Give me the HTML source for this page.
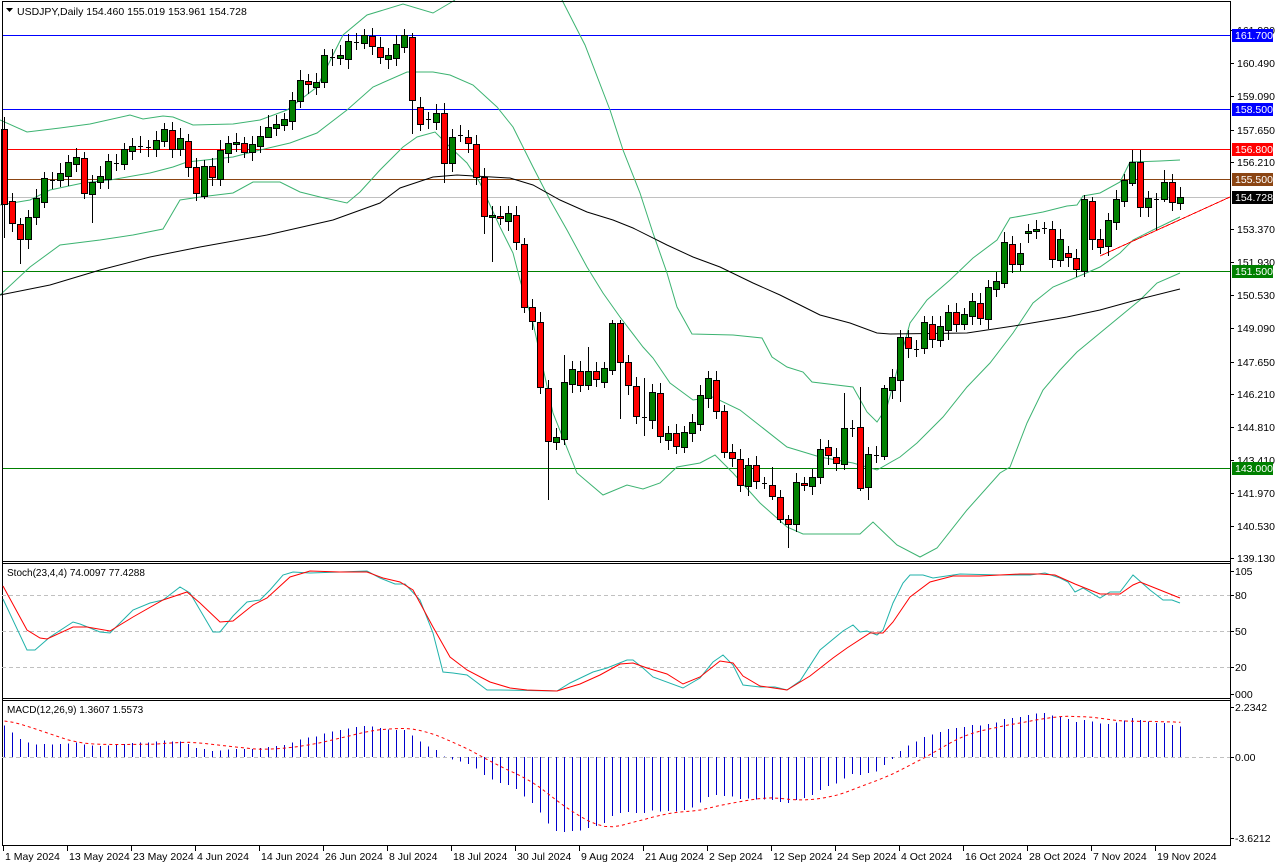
<!DOCTYPE html>
<html><head><meta charset="utf-8"><style>
html,body{margin:0;padding:0;background:#fff;}
svg{display:block;font-family:"Liberation Sans",sans-serif;}
</style></head><body>
<svg id="s" width="1276" height="867" xmlns="http://www.w3.org/2000/svg">
<rect width="1276" height="867" fill="#fff"/>
<g id="g"></g>
</svg>
<script>
(function(){
var g=document.getElementById('g');var out=[];
function L(x1,y1,x2,y2,c,w,d){out.push('<line x1="'+x1+'" y1="'+y1+'" x2="'+x2+'" y2="'+y2+'" stroke="'+c+'" stroke-width="'+(w||1)+'"'+(d?' stroke-dasharray="'+d+'"':'')+' shape-rendering="crispEdges"/>');}
function P(pts,c,w,d){out.push('<polyline fill="none" stroke="'+c+'" stroke-width="'+(w||1)+'"'+(d?' stroke-dasharray="'+d+'"':'')+' points="'+pts.map(function(p){return p[0]+','+p[1]}).join(' ')+'"/>');}
function T(x,y,t,c,s,a){out.push('<text x="'+x+'" y="'+y+'" fill="'+(c||'#000')+'" font-size="'+(s||11)+'"'+(a?' text-anchor="'+a+'"':'')+'>'+t+'</text>');}
function R(x,y,w,h,f,st){out.push('<rect x="'+x+'" y="'+y+'" width="'+w+'" height="'+h+'" fill="'+f+'"'+(st?' stroke="'+st+'" stroke-width="1"':'')+' shape-rendering="crispEdges"/>');}

// horizontal levels
var lv=[[35,'#0000ff'],[109,'#0000ff'],[149,'#ff0000'],[179,'#8b4513'],[197,'#c0c0c0'],[271,'#008000'],[468,'#008000']];
lv.forEach(function(l){L(2,l[0]+.5,1230,l[0]+.5,l[1]);});

// bands
var up=[[0,120],[27,132],[60,128],[90,124],[130,115],[143,119],[163,116],[173,117],[193,125],[233,124],[260,120],[287,110],[317,87],[343,35],[367,15],[403,4],[433,13],[450,3],[455,0]];
var up2=[[562,0],[585,45],[610,110],[623,150],[640,193],[653,233],[667,273],[677,307],[692,334],[733,335],[762,338],[772,357],[787,367],[803,372],[812,382],[853,387],[867,412],[877,422],[887,407],[910,323],[927,300],[950,280],[973,258],[997,240],[1010,218],[1027,215],[1043,212],[1067,206],[1077,205],[1083,196],[1100,193],[1120,182],[1130,162],[1160,161],[1180,160]];
var mid=[[0,205],[30,200],[50,190],[83,183],[110,180],[150,173],[173,167],[187,162],[233,157],[260,150],[290,143],[317,133],[347,110],[373,87],[407,72],[433,72],[450,75],[473,85],[497,107],[513,127],[533,167],[550,200],[567,230],[587,267],[603,293],[620,317],[643,347],[653,358],[670,383],[693,400],[713,397],[740,410],[787,447],[820,457],[853,463],[877,470],[900,457],[917,443],[943,417],[967,387],[990,363],[1013,333],[1033,303],[1053,287],[1077,277],[1100,267],[1120,253],[1133,240],[1153,230],[1180,217]];
var lo=[[0,295],[30,267],[60,245],[100,240],[133,235],[163,229],[180,200],[200,197],[233,193],[253,182],[280,182],[300,192],[320,197],[347,203],[360,192],[380,170],[403,147],[417,137],[435,132],[450,147],[467,163],[480,183],[500,227],[513,253],[520,280],[533,323],[553,413],[577,473],[603,495],[627,485],[643,489],[660,483],[677,467],[700,463],[715,455],[733,473],[760,503],[787,527],[803,534],[860,534],[873,522],[897,545],[920,557],[937,548],[967,510],[1000,473],[1010,467],[1027,423],[1043,390],[1060,370],[1077,352],[1100,333],[1140,300],[1157,283],[1180,273]];
var bc='#3cb371';P(up,bc);P(up2,bc);P(mid,bc);P(lo,bc);
var ma=[[0,295],[50,285],[100,270],[150,257],[200,247],[267,235],[333,220],[380,203],[400,188],[433,177],[457,175],[510,178],[533,185],[560,200],[587,212],[613,220],[633,228],[667,245],[693,257],[720,267],[753,283],[780,295],[800,305],[820,315],[850,323],[877,333],[890,334],[967,333],[987,330],[1020,325],[1067,317],[1100,310],[1140,299],[1180,289]];
P(ma,'#000');
// trend line
L(1100,256,1230,197,'#ff0000');

// candles
var C=[[129,204],[201,223],[224,239],[239,217],[217,198],[202,178],[180,180],[180,173],[176,162],[164,157],[158,193],[194,182],[182,176],[179,161],[163,163],[164,149],[151,146],[146,146],[147,147],[149,140],[141,129],[130,149],[149,138],[141,167],[167,193],[196,166],[166,177],[179,150],[153,143],[144,142],[143,152],[152,144],[146,136],[137,127],[128,124],[125,119],[121,100],[101,80],[81,84],[87,82],[82,55],[57,57],[58,55],[59,41],[42,42],[43,35],[36,46],[47,57],[59,55],[58,44],[47,35],[37,100],[107,124],[119,119],[122,113],[113,163],[163,137],[135,135],[137,143],[144,177],[177,216],[217,215],[216,218],[221,213],[215,242],[244,307],[307,321],[322,387],[388,441],[442,437],[439,382],[384,369],[371,385],[385,371],[371,379],[382,368],[370,323],[323,362],[362,385],[386,416],[417,417],[420,392],[393,436],[440,433],[433,446],[447,432],[433,422],[424,395],[398,378],[380,411],[411,452],[452,458],[459,485],[486,465],[465,481],[483,483],[485,496],[497,519],[519,524],[524,482],[483,485],[486,477],[477,449],[447,455],[457,463],[464,428],[428,428],[427,488],[487,454],[455,455],[456,388],[390,377],[380,337],[337,348],[349,349],[348,322],[324,339],[340,326],[330,312],[312,324],[324,314],[316,301],[303,318],[319,287],[289,281],[283,242],[244,264],[264,253],[233,231],[231,229],[228,228],[229,259],[260,239],[253,257],[258,269],[271,199],[201,239],[239,247],[246,220],[222,199],[201,180],[183,162],[162,207],[207,198],[199,199],[199,182],[182,202],[203,197]];
var W={0:[117,238],2:[218,264],11:[175,223],25:[160,199],33:[115,133],51:[33,134],55:[103,183],60:[168,234],61:[206,262],68:[380,500],70:[355,445],73:[347,390],76:[320,375],77:[320,419],80:[378,436],96:[467,500],97:[490,523],98:[515,548],105:[393,470],107:[387,491],108:[447,500],110:[385,460],112:[330,402],125:[232,288],135:[195,277],136:[197,250],141:[150,186],142:[150,217],144:[193,230],145:[170,202]};
for(var i=0;i<C.length;i++){
 var x=4+8*i,o=C[i][0],c=C[i][1],t=Math.min(o,c),b=Math.max(o,c);
 var hl=W[i]||[t-6-(i*7%5),b+6+(i*3%5)];
 L(x+.5,hl[0],x+.5,hl[1],'#000');
 if(b-t<2){L(x-2,t+.5,x+3,t+.5,'#000');}
 else R(x-2.5,t+.5,6,b-t,c<o?'#008000':'#ff0000','#000');
}

// frames
L(2.5,1,2.5,846,'#000');L(1230.5,1,1230.5,846,'#000');L(2,1.5,1231,1.5,'#000');
L(2,561.5,1231,561.5,'#000');L(2,563.5,1231,563.5,'#000');
L(2,698.5,1231,698.5,'#000');L(2,700.5,1231,700.5,'#000');L(2,845.5,1231,845.5,'#000');

// title
out.push('<polygon points="6,8 13,8 9.5,12" fill="#000"/>');
T(17,15,'USDJPY,Daily  154.460 155.019 153.961 154.728','#000',10.5);

// right axis main
var ticks=[['161.930',30],['160.490',63],['159.090',96],['157.650',130],['156.210',162],['153.370',229],['151.930',262],['150.530',295],['149.090',328],['147.650',362],['146.210',394],['144.810',427],['143.410',460],['141.970',493],['140.530',526],['139.130',558]];
ticks.forEach(function(t){L(1230,t[1]+.5,1234,t[1]+.5,'#000');T(1237,t[1]+4,t[0],'#000',10.5);});
var lb=[[35,'161.700','#0000ff'],[109,'158.500','#0000ff'],[149,'156.800','#ff0000'],[179,'155.500','#8b4513'],[197,'154.728','#000'],[271,'151.500','#008000'],[468,'143.000','#008000']];
lb.forEach(function(l){R(1232,l[0]-6,41,13,l[2]);T(1235,l[0]+4,l[1],'#fff',10.5);});

// stoch
[595,631,667].forEach(function(y){L(2,y+.5,1230,y+.5,'#c0c0c0',1,'4,3');});
var st=[[105,571],[80,595],[50,631],[20,667],[0,694]];
st.forEach(function(t){L(1230,t[1]+.5,1234,t[1]+.5,'#000');T(1235,t[1]+4,t[0],'#000',10.5);});
T(1241,698,'00','#000',10.5);
var tm=[[3,599],[27,650],[35,650],[50,637],[73,622],[80,624],[100,632],[110,633],[133,610],[150,603],[163,600],[180,587],[190,593],[200,610],[213,632],[220,632],[233,616],[247,602],[260,600],[270,590],[283,575],[293,572],[310,573],[340,572],[367,571],[380,578],[395,584],[405,584],[420,600],[433,633],[443,672],[453,673],[467,675],[487,690],[500,690],[557,691],[570,683],[593,672],[607,668],[627,660],[633,660],[643,668],[653,677],[683,688],[700,678],[713,662],[723,655],[733,665],[743,685],[760,687],[775,687],[787,690],[800,681],[820,650],[843,631],[853,625],[860,632],[867,631],[877,635],[883,630],[893,603],[903,583],[910,575],[923,575],[933,578],[960,574],[1000,575],[1030,575],[1045,573],[1060,578],[1068,582],[1075,592],[1083,588],[1100,598],[1110,592],[1120,592],[1133,575],[1150,590],[1163,600],[1172,600],[1180,603]];
var rm=[[3,586],[27,630],[40,638],[47,639],[73,627],[87,627],[110,631],[133,617],[163,600],[187,592],[200,603],[220,622],[233,621],[253,605],[267,598],[290,577],[310,571],[340,572],[367,572],[383,578],[400,582],[413,590],[433,627],[450,657],[467,670],[490,682],[510,688],[527,690],[557,691],[580,684],[600,675],[620,664],[633,663],[647,668],[667,674],[683,684],[700,677],[720,661],[733,663],[743,676],[760,686],[787,690],[810,676],[833,658],[847,648],[870,633],[883,633],[893,622],[910,597],[930,582],[953,576],[980,576],[1020,574],[1040,574],[1055,575],[1075,584],[1090,590],[1100,594],[1120,594],[1133,585],[1140,582],[1160,590],[1180,598]];
P(tm,'#20b2aa');P(rm,'#ff0000');
T(7,576,'Stoch(23,4,4) 74.0097 77.4288','#000',10);

// MACD computed
var pr=[],p0=161.7-(129-35)/23.17;
for(var k=0;k<45;k++)pr.push(146.5+(p0-146.5)*k/44);
var n0=pr.length;
C.forEach(function(cc){pr.push(161.7-(cc[1]-35)/23.17);});
var e12=pr[0],e26=pr[0],m=[];
for(var k=0;k<pr.length;k++){e12+= (pr[k]-e12)*2/13;e26+=(pr[k]-e26)*2/27;m.push(e12-e26);}
var sg=[];for(var k=0;k<m.length;k++){var s=0,c9=0;for(var j=Math.max(0,k-8);j<=k;j++){s+=m[j];c9++;}sg.push(s/c9);}
var z=757,sc=22.4;
L(2,z+.5,1230,z+.5,'#c0c0c0',1,'4,3');
var sp=[];
for(var i=0;i<C.length;i++){var x=4+8*i+.5;var v=Math.max(-3.6,Math.min(2.23,m[n0+i]));L(x,z,x,z-v*sc,'#0000cc',1);var sv=Math.max(-3.6,Math.min(2.23,sg[n0+i]));sp.push([x,(z-sv*sc).toFixed(1)]);}
P(sp,'#ff0000',1,'3,3');
T(7,713,'MACD(12,26,9) 1.3607 1.5573','#000',10);
[['2.2342',707],['0.00',757],['-3.6212',838]].forEach(function(t){L(1230,t[1]+.5,1234,t[1]+.5,'#000');T(1235,t[1]+4,t[0],'#000',10.5);});

// dates
var d=['1 May 2024','13 May 2024','23 May 2024','4 Jun 2024','14 Jun 2024','26 Jun 2024','8 Jul 2024','18 Jul 2024','30 Jul 2024','9 Aug 2024','21 Aug 2024','2 Sep 2024','12 Sep 2024','24 Sep 2024','4 Oct 2024','16 Oct 2024','28 Oct 2024','7 Nov 2024','19 Nov 2024'];
d.forEach(function(t,i){var x=3+64*i;L(x+.5,846,x+.5,851,'#000');T(x+2,860,t,'#000',10.5);});

g.innerHTML=out.join('');
})();
</script>
</body></html>
